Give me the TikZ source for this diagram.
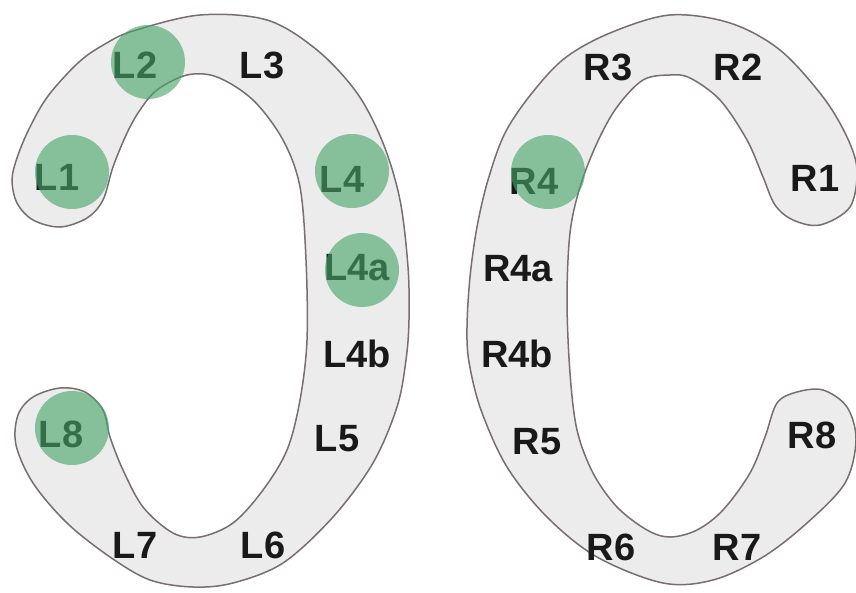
\documentclass[tikz,border=0pt]{standalone}
\usepackage{fontspec}
\setmainfont{Liberation Sans}
\tikzset{
  band/.style={draw={rgb,255:red,120;green,110;blue,110}, line width=1.5pt, fill={rgb,255:red,236;green,236;blue,236}},
  lbl/.style={font=\fontsize{38}{40}\selectfont\bfseries, text={rgb,255:red,25;green,25;blue,25}, anchor=base, inner sep=0pt},
  greendot/.style={circle, fill={rgb,255:red,70;green,165;blue,105}, fill opacity=0.62, draw=none, minimum size=74pt, inner sep=0pt}
}
\begin{document}
\begin{tikzpicture}[x=1pt,y=-1pt]
\useasboundingbox (0,0) rectangle (856,592);
% left band
\path[band] plot[smooth cycle, tension=0.55] coordinates {
(12,180) (17,158) (29,129) (48,96) (79,62) (105,44) (133,31) (200,15) (267,20) (317,50) (357,93) (383,143) (400,200) (408,267) (409,320) (406,360) (397,407) (373,463) (333,517) (283,563) (233,583) (193,587) (150,580) (110,557) (67,523) (33,483) (16,445) (18,415) (33,397) (60,388) (85,392) (103,410) (110,437) (123,470) (143,507) (173,533) (200,537) (233,523) (263,490) (287,450) (300,400) (307,340) (306,260) (300,187) (283,140) (253,100) (217,77) (187,75) (157,90) (140,110) (127,133) (113,167) (103,200) (87,218) (60,227) (33,220) (17,203)};
% right band
\path[band] plot[smooth cycle, tension=0.55] coordinates {
(763,177) (747,140) (720,100) (690,78) (670,75) (643,80) (617,107) (597,143) (580,187) (570,233) (567,300) (570,373) (577,430) (593,473) (617,507) (647,530) (670,537) (697,530) (723,510) (750,473) (765,437) (777,403) (797,392) (823,390) (847,407) (856,440) (845,483) (807,523) (763,557) (713,580) (663,583) (597,557) (547,517) (507,467) (481,410) (469,362) (467,327) (470,277) (477,227) (488,180) (505,133) (532,93) (565,58) (610,33) (670,15) (730,23) (780,50) (823,97) (847,137) (857,170) (850,207) (820,225) (793,220) (775,205)};
% labels (baseline = centre + 14)
\node[lbl] (L1) at (57,190) {L1};
\node[lbl] (L2) at (135,78) {L2};
\node[lbl] (L3) at (262,78) {L3};
\node[lbl] (L4) at (342,192) {L4};
\node[lbl] (L4a) at (357,280) {L4a};
\node[lbl] (L4b) at (357,367) {L4b};
\node[lbl] (L5) at (337,451) {L5};
\node[lbl] (L6) at (263,558) {L6};
\node[lbl] (L7) at (135,558) {L7};
\node[lbl] (L8) at (61,447) {L8};
\node[lbl] (R1) at (815,191) {R1};
\node[lbl] (R2) at (738,80) {R2};
\node[lbl] (R3) at (608,80) {R3};
\node[lbl] (R4) at (534,194) {R4};
\node[lbl] (R4a) at (518,281) {R4a};
\node[lbl] (R4b) at (517,367) {R4b};
\node[lbl] (R5) at (537,454) {R5};
\node[lbl] (R6) at (611,560) {R6};
\node[lbl] (R7) at (737,560) {R7};
\node[lbl] (R8) at (812,448) {R8};
% green markers
\node[greendot] (gL1) at (72,172) {};
\node[greendot] (gL2) at (148,62) {};
\node[greendot] (gL4) at (352,171) {};
\node[greendot] (gL4a) at (362,270) {};
\node[greendot] (gL8) at (72,428) {};
\node[greendot] (gR4) at (548,172) {};
\end{tikzpicture}
\end{document}
